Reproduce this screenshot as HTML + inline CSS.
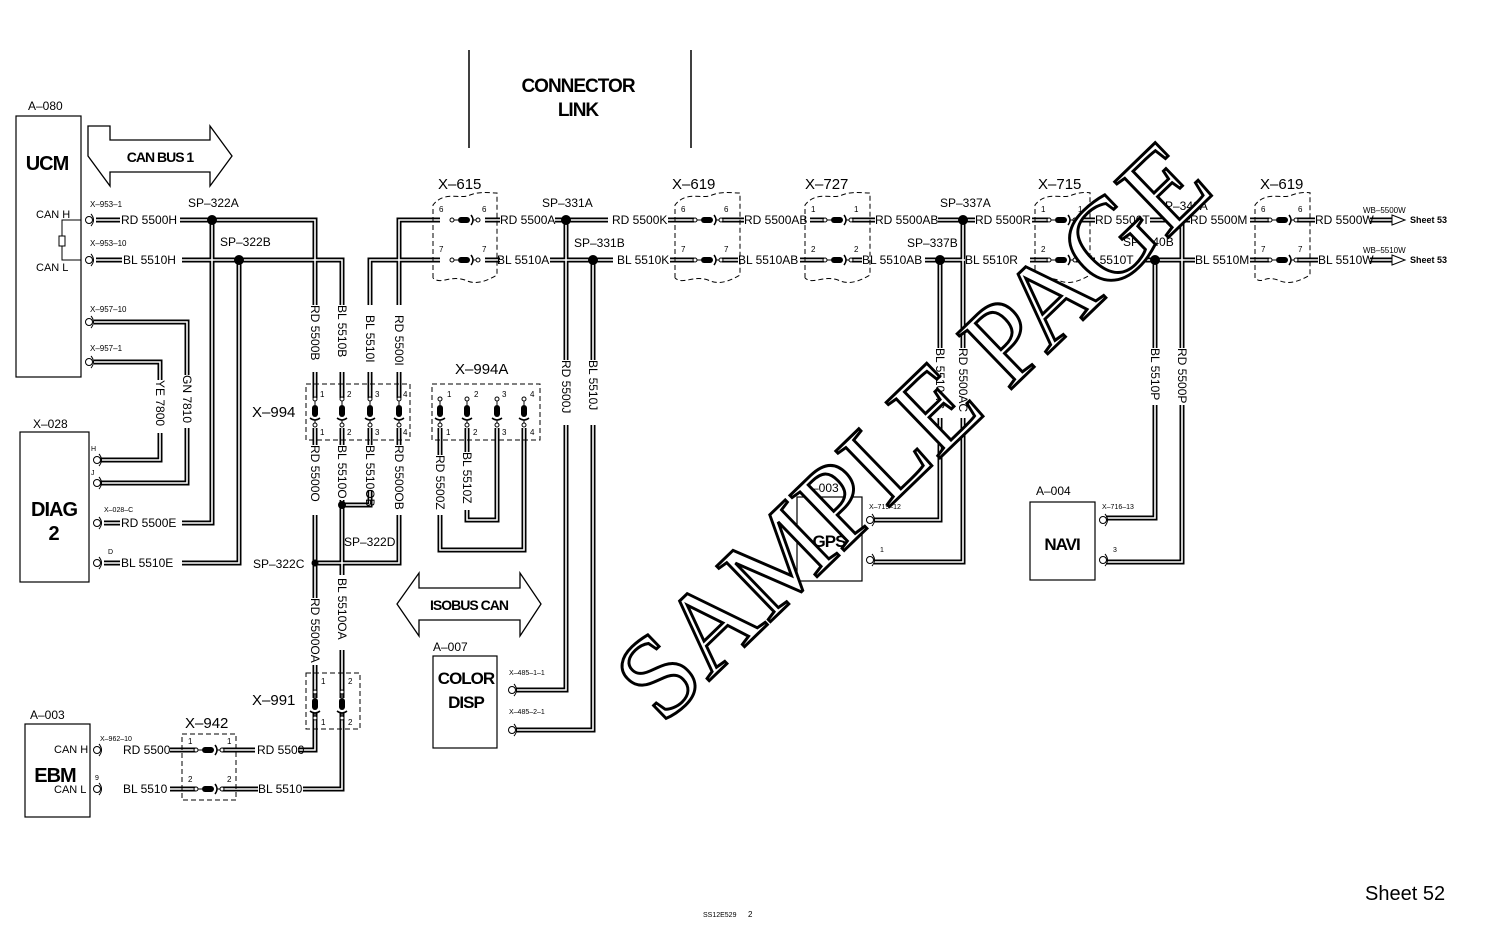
<!DOCTYPE html>
<html><head><meta charset="utf-8"><style>
html,body{margin:0;padding:0;background:#fff;}
svg{display:block;font-family:"Liberation Sans",sans-serif;}
</style></head><body>
<svg width="1500" height="936" viewBox="0 0 1500 936" xmlns="http://www.w3.org/2000/svg">
<defs>
<g id="ch">
 <circle cx="-13" cy="0" r="2" fill="#fff" stroke="#000" stroke-width="1"/>
 <line x1="-11" y1="0" x2="-7" y2="0" stroke="#000" stroke-width="1"/>
 <rect x="-7" y="-3" width="12" height="6" rx="3" fill="#000"/>
 <path d="M6,-5 Q10,0 6,5" fill="none" stroke="#000" stroke-width="1.5"/>
 <line x1="8" y1="0" x2="11" y2="0" stroke="#000" stroke-width="1"/>
 <circle cx="13" cy="0" r="2" fill="#fff" stroke="#000" stroke-width="1"/>
</g>
<g id="cv" transform="rotate(90)"><use href="#ch"/></g>
<g id="pin"><circle cx="0" cy="0" r="3.5" fill="none" stroke="#000" stroke-width="1"/><path d="M2,-6 Q7,0 2,6" fill="none" stroke="#000" stroke-width="1"/></g>
<g id="w" fill="none">
 <path d="M96,220H120M180,220H315V305M315,372V398"/>
 <path d="M96,260H122M182,260H342V305M342,372V398"/>
 <path d="M212,220V523H182M104,523H120"/>
 <path d="M239,260V563H182M104,563H120"/>
 <path d="M94,322H187V375M187,428V483H100"/>
 <path d="M94,362H160V380M160,433V460H100"/>
 <path d="M370,398V372M370,305V260H440M399,305V220H440M399,372V398"/>
 <path d="M315,428V445M315,515V598M315,665V698M315,712V750H298M255,750H222M196,750H170"/>
 <path d="M342,428V445M342,500V575M342,650V698M342,712V789H303M258,789H222M196,789H170"/>
 <path d="M342,505H370V490M370,428V445"/>
 <path d="M399,428V445M399,515V563H315"/>
 <path d="M440,428V455M440,515V550H524V428M467,428V452M467,510V520H497V428"/>
 <path d="M485,220H500M555,220H608M668,220H694M722,220H744M810,220H824M852,220H875M938,220H975M1032,220H1048M1076,220H1095M1150,220H1190M1250,220H1269M1297,220H1315M1370,220H1392"/>
 <path d="M485,260H500M550,260H613M670,260H694M722,260H738M800,260H824M852,260H862M925,260H965M1030,260H1048M1076,260H1095M1140,260H1195M1250,260H1269M1297,260H1318M1370,260H1392"/>
 <path d="M566,220V360M566,425V690H516M593,260V360M593,425V730H516"/>
 <path d="M940,260V348M940,418V520H874M963,220V348M963,418V562H874"/>
 <path d="M1155,260V348M1155,405V518H1106M1182,220V348M1182,405V562H1106"/>
</g>
</defs>

<use href="#w" stroke="#000" stroke-width="5"/>
<use href="#w" stroke="#fff" stroke-width="1.6"/>

<line x1="469" y1="50" x2="469" y2="148" stroke="#000" stroke-width="1.5"/>
<line x1="691" y1="50" x2="691" y2="148" stroke="#000" stroke-width="1.5"/>
<text x="578" y="92" font-size="19" font-weight="bold" text-anchor="middle" letter-spacing="-1">CONNECTOR</text>
<text x="578" y="116" font-size="19" font-weight="bold" text-anchor="middle" letter-spacing="-1">LINK</text>

<text x="28" y="110" font-size="12">A–080</text>
<rect x="16" y="116" width="65" height="261" fill="none" stroke="#000" stroke-width="1.2"/>
<text x="47" y="170" font-size="20" font-weight="bold" text-anchor="middle" letter-spacing="-1">UCM</text>
<text x="36" y="218" font-size="11">CAN  H</text>
<text x="36" y="271" font-size="11">CAN  L</text>
<path d="M81,220H62V236M62,246V260H81" fill="none" stroke="#000"/>
<rect x="59" y="236" width="6" height="10" fill="#fff" stroke="#000"/>
<path d="M88,126L110,126L110,140L210,140L210,126L232,156L210,186L210,172L110,172L110,186L88,156Z" fill="#fff" stroke="#000" stroke-width="1.3"/>
<text x="160" y="162" font-size="14" font-weight="bold" text-anchor="middle" letter-spacing="-1">CAN BUS 1</text>
<use href="#pin" x="89" y="220"/><use href="#pin" x="89" y="260"/>
<use href="#pin" x="89" y="322"/><use href="#pin" x="89" y="362"/>
<g font-size="8"><text x="90" y="207">X–953–1</text><text x="90" y="246">X–953–10</text><text x="90" y="312">X–957–10</text><text x="90" y="351">X–957–1</text></g>
<g font-size="12">
<text x="121" y="224">RD  5500H</text><text x="123" y="264">BL  5510H</text>
<text x="188" y="207">SP–322A</text><text x="220" y="246">SP–322B</text>
<text x="121" y="527">RD  5500E</text><text x="121" y="567">BL  5510E</text>
</g>
<circle cx="212" cy="220" r="5"/><circle cx="239" cy="260" r="5"/>
<g font-size="12">
<text transform="translate(156,380) rotate(90)">YE  7800</text>
<text transform="translate(183,375) rotate(90)">GN  7810</text>
</g>

<text x="33" y="428" font-size="12">X–028</text>
<rect x="20" y="432" width="69" height="150" fill="none" stroke="#000" stroke-width="1.2"/>
<text x="54" y="516" font-size="20" font-weight="bold" text-anchor="middle" letter-spacing="-1">DIAG</text>
<text x="54" y="540" font-size="20" font-weight="bold" text-anchor="middle">2</text>
<use href="#pin" x="97" y="460"/><use href="#pin" x="97" y="483"/><use href="#pin" x="97" y="523"/><use href="#pin" x="97" y="563"/>
<g font-size="7"><text x="91" y="451">H</text><text x="91" y="475">J</text><text x="104" y="512">X–028–C</text><text x="108" y="554">D</text></g>

<g font-size="12">
<text transform="translate(311,305) rotate(90)">RD  5500B</text>
<text transform="translate(338,305) rotate(90)">BL  5510B</text>
<text transform="translate(366,315) rotate(90)">BL  5510I</text>
<text transform="translate(395,315) rotate(90)">RD  5500I</text>
<text transform="translate(311,445) rotate(90)">RD  5500O</text>
<text transform="translate(338,445) rotate(90)">BL  5510O</text>
<text transform="translate(366,445) rotate(90)">BL  5510OB</text>
<text transform="translate(395,445) rotate(90)">RD  5500OB</text>
<text transform="translate(311,598) rotate(90)">RD  5500OA</text>
<text transform="translate(338,578) rotate(90)">BL  5510OA</text>
<text transform="translate(436,455) rotate(90)">RD  5500Z</text>
<text transform="translate(463,452) rotate(90)">BL  5510Z</text>
</g>
<rect x="306" y="384" width="104" height="56" fill="none" stroke="#000" stroke-dasharray="5,3"/>
<text x="252" y="417" font-size="15">X–994</text>
<rect x="432" y="384" width="108" height="56" fill="none" stroke="#000" stroke-dasharray="5,3"/>
<text x="455" y="374" font-size="15">X–994A</text>
<g><use href="#cv" x="315" y="412"/><use href="#cv" x="342" y="412"/><use href="#cv" x="370" y="412"/><use href="#cv" x="399" y="412"/>
<use href="#cv" x="440" y="412"/><use href="#cv" x="467" y="412"/><use href="#cv" x="497" y="412"/><use href="#cv" x="524" y="412"/></g>
<g font-size="8">
<text x="320" y="397">1</text><text x="347" y="397">2</text><text x="375" y="397">3</text><text x="403" y="397">4</text>
<text x="320" y="435">1</text><text x="347" y="435">2</text><text x="375" y="435">3</text><text x="403" y="435">4</text>
<text x="447" y="397">1</text><text x="474" y="397">2</text><text x="502" y="397">3</text><text x="530" y="397">4</text>
<text x="446" y="435">1</text><text x="473" y="435">2</text><text x="502" y="435">3</text><text x="530" y="435">4</text>
</g>
<circle cx="342" cy="505" r="4"/><circle cx="315" cy="563" r="3.5"/>
<text x="344" y="546" font-size="12">SP–322D</text>
<text x="253" y="568" font-size="12">SP–322C</text>

<rect x="306" y="673" width="54" height="56" fill="none" stroke="#000" stroke-dasharray="5,3"/>
<use href="#cv" x="315" y="705"/><use href="#cv" x="342" y="705"/>
<g font-size="8"><text x="321" y="684">1</text><text x="348" y="684">2</text><text x="321" y="725">1</text><text x="348" y="725">2</text></g>
<text x="252" y="705" font-size="15">X–991</text>
<text x="185" y="728" font-size="15">X–942</text>
<rect x="182" y="734" width="54" height="66" fill="none" stroke="#000" stroke-dasharray="5,3"/>
<use href="#ch" x="209" y="750"/><use href="#ch" x="209" y="789"/>
<g font-size="8"><text x="188" y="744">1</text><text x="227" y="744">1</text><text x="188" y="782">2</text><text x="227" y="782">2</text></g>
<g font-size="12"><text x="257" y="754">RD  5500</text><text x="258" y="793">BL  5510</text>
<text x="123" y="754">RD  5500</text><text x="123" y="793">BL  5510</text></g>
<text x="30" y="719" font-size="12">A–003</text>
<rect x="25" y="724" width="65" height="93" fill="none" stroke="#000" stroke-width="1.2"/>
<text x="54" y="753" font-size="11">CAN  H</text>
<text x="55" y="782" font-size="20" font-weight="bold" text-anchor="middle" letter-spacing="-1">EBM</text>
<text x="54" y="793" font-size="11">CAN  L</text>
<use href="#pin" x="97" y="750"/><use href="#pin" x="97" y="789"/>
<g font-size="7"><text x="100" y="741">X–962–10</text><text x="95" y="780">9</text></g>

<path d="M397,604L419,573L419,588L520,588L520,573L541,604L520,636L520,620L419,620L419,636Z" fill="#fff" stroke="#000" stroke-width="1.3"/>
<text x="469" y="610" font-size="14" font-weight="bold" text-anchor="middle" letter-spacing="-1">ISOBUS CAN</text>
<text x="433" y="651" font-size="12">A–007</text>
<rect x="433" y="656" width="64" height="92" fill="none" stroke="#000" stroke-width="1.2"/>
<text x="466" y="684" font-size="17" font-weight="bold" text-anchor="middle" letter-spacing="-1">COLOR</text>
<text x="466" y="708" font-size="17" font-weight="bold" text-anchor="middle" letter-spacing="-1">DISP</text>
<use href="#pin" x="512" y="690"/><use href="#pin" x="512" y="730"/>
<g font-size="7"><text x="509" y="675">X–485–1–1</text><text x="509" y="714">X–485–2–1</text></g>

<g fill="none" stroke="#000" stroke-dasharray="5,3">
<path d="M433,278V205C445,190 460,200 470,195C480,191 490,193 497,193V275C485,282 475,285 465,280C450,275 440,285 433,278"/>
<path d="M675,278V205C687,190 702,200 712,195C722,191 732,193 740,193V275C728,282 718,285 708,280C693,275 683,285 675,278"/>
<path d="M805,278V205C817,190 832,200 842,195C852,191 862,193 870,193V275C858,282 848,285 838,280C823,275 813,285 805,278"/>
<path d="M1035,278V205C1047,190 1062,200 1072,195C1082,191 1092,193 1090,193V275C1078,282 1068,285 1058,280C1043,275 1043,285 1035,278"/>
<path d="M1255,278V205C1267,190 1282,200 1292,195C1302,191 1312,193 1310,193V275C1298,282 1288,285 1278,280C1263,275 1263,285 1255,278"/>
</g>
<g>
<use href="#ch" x="465" y="220"/><use href="#ch" x="465" y="260"/>
<use href="#ch" x="708" y="220"/><use href="#ch" x="708" y="260"/>
<use href="#ch" x="838" y="220"/><use href="#ch" x="838" y="260"/>
<use href="#ch" x="1062" y="220"/><use href="#ch" x="1062" y="260"/>
<use href="#ch" x="1283" y="220"/><use href="#ch" x="1283" y="260"/>
</g>
<g font-size="8">
<text x="439" y="212">6</text><text x="482" y="212">6</text><text x="439" y="252">7</text><text x="482" y="252">7</text>
<text x="681" y="212">6</text><text x="724" y="212">6</text><text x="681" y="252">7</text><text x="724" y="252">7</text>
<text x="811" y="212">1</text><text x="854" y="212">1</text><text x="811" y="252">2</text><text x="854" y="252">2</text>
<text x="1041" y="212">1</text><text x="1078" y="212">1</text><text x="1041" y="252">2</text><text x="1078" y="252">2</text>
<text x="1261" y="212">6</text><text x="1298" y="212">6</text><text x="1261" y="252">7</text><text x="1298" y="252">7</text>
</g>
<g font-size="15"><text x="438" y="189">X–615</text><text x="672" y="189">X–619</text><text x="805" y="189">X–727</text><text x="1038" y="189">X–715</text><text x="1260" y="189">X–619</text></g>
<g font-size="12">
<text x="500" y="224">RD  5500A</text><text x="612" y="224">RD  5500K</text><text x="744" y="224">RD  5500AB</text>
<text x="875" y="224">RD  5500AB</text><text x="975" y="224">RD  5500R</text><text x="1095" y="224">RD  5500T</text>
<text x="1190" y="224">RD  5500M</text><text x="1315" y="224">RD  5500W</text>
<text x="497" y="264">BL  5510A</text><text x="617" y="264">BL  5510K</text><text x="738" y="264">BL  5510AB</text>
<text x="862" y="264">BL  5510AB</text><text x="965" y="264">BL  5510R</text><text x="1082" y="264">BL  5510T</text>
<text x="1195" y="264">BL  5510M</text><text x="1318" y="264">BL  5510W</text>
<text x="542" y="207">SP–331A</text><text x="574" y="247">SP–331B</text>
<text x="940" y="207">SP–337A</text><text x="907" y="247">SP–337B</text>
<text x="1157" y="210">SP–340A</text><text x="1123" y="246">SP–340B</text>
</g>
<circle cx="566" cy="220" r="5"/><circle cx="593" cy="260" r="5"/>
<circle cx="963" cy="220" r="5"/><circle cx="940" cy="260" r="5"/>
<circle cx="1170" cy="220" r="5"/><circle cx="1155" cy="260" r="5"/>
<g font-size="8"><text x="1363" y="213">WB–5500W</text><text x="1363" y="253">WB–5510W</text></g>
<path d="M1392,215L1405,220L1392,225Z M1392,255L1405,260L1392,265Z" fill="#fff" stroke="#000"/>
<g font-size="9" font-weight="bold"><text x="1410" y="223">Sheet  53</text><text x="1410" y="263">Sheet  53</text></g>
<g font-size="12">
<text transform="translate(562,360) rotate(90)">RD  5500J</text>
<text transform="translate(589,360) rotate(90)">BL  5510J</text>
<text transform="translate(936,348) rotate(90)">BL  5510AC</text>
<text transform="translate(959,348) rotate(90)">RD  5500AC</text>
<text transform="translate(1151,348) rotate(90)">BL  5510P</text>
<text transform="translate(1178,348) rotate(90)">RD  5500P</text>
</g>

<text x="804" y="492" font-size="12">A–003</text>
<rect x="797" y="497" width="65" height="84" fill="none" stroke="#000" stroke-width="1.2"/>
<text x="829" y="547" font-size="17" font-weight="bold" text-anchor="middle" letter-spacing="-1">GPS</text>
<use href="#pin" x="870" y="520"/><use href="#pin" x="870" y="560"/>
<g font-size="7"><text x="869" y="509">X–719–12</text><text x="880" y="552">1</text></g>
<text x="1036" y="495" font-size="12">A–004</text>
<rect x="1030" y="502" width="65" height="78" fill="none" stroke="#000" stroke-width="1.2"/>
<text x="1062" y="550" font-size="17" font-weight="bold" text-anchor="middle" letter-spacing="-1">NAVI</text>
<use href="#pin" x="1103" y="520"/><use href="#pin" x="1103" y="560"/>
<g font-size="7"><text x="1102" y="509">X–716–13</text><text x="1113" y="552">3</text></g>

<text x="1365" y="900" font-size="20">Sheet 52</text>
<text x="703" y="917" font-size="7">SS12E529</text><text x="748" y="917" font-size="8">2</text>

<text transform="translate(912,430) rotate(-44)" font-family="Liberation Serif, serif" font-size="118" text-anchor="middle" dominant-baseline="central" fill="#fff" stroke="#000" stroke-width="3" textLength="770" lengthAdjust="spacingAndGlyphs">SAMPLE PAGE</text>
</svg>
</body></html>
